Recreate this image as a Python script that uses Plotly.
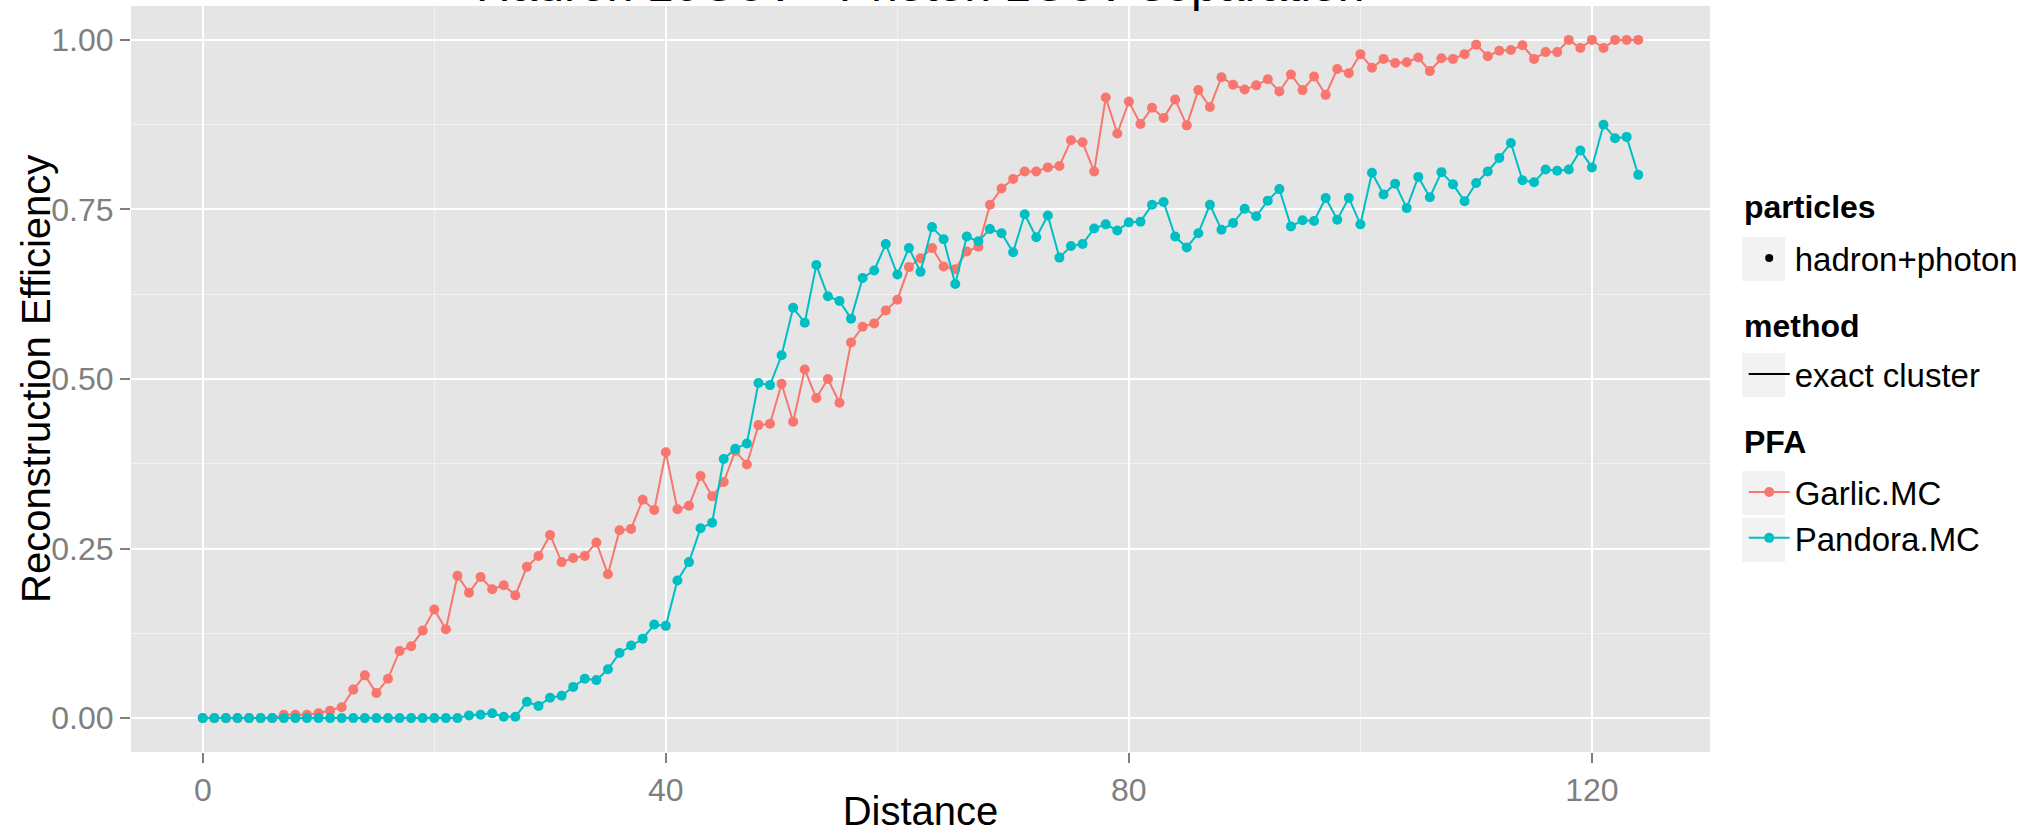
import plotly.graph_objects as go

distance = list(range(0, 125))

garlic_mc = [
    0.000, 0.000, 0.000, 0.000, 0.000, 0.000, 0.000, 0.005, 0.005, 0.005,
    0.007, 0.011, 0.016, 0.042, 0.063, 0.037, 0.058, 0.099, 0.106, 0.129,
    0.160, 0.131, 0.210, 0.185, 0.208, 0.190, 0.196, 0.181, 0.223, 0.239,
    0.270, 0.230, 0.236, 0.239, 0.259, 0.212, 0.277, 0.279, 0.322, 0.307,
    0.392, 0.308, 0.313, 0.357, 0.327, 0.348, 0.394, 0.374, 0.432, 0.434,
    0.493, 0.437, 0.514, 0.472, 0.500, 0.465, 0.554, 0.577, 0.582, 0.601,
    0.617, 0.665, 0.678, 0.693, 0.666, 0.662, 0.688, 0.695, 0.757, 0.781,
    0.795, 0.806, 0.806, 0.812, 0.814, 0.852, 0.849, 0.806, 0.915, 0.862,
    0.909, 0.876, 0.900, 0.885, 0.912, 0.874, 0.926, 0.901, 0.945, 0.934,
    0.927, 0.933, 0.942, 0.924, 0.949, 0.926, 0.946, 0.919, 0.957, 0.951,
    0.979, 0.959, 0.972, 0.966, 0.967, 0.974, 0.954, 0.973, 0.972, 0.979,
    0.993, 0.976, 0.984, 0.985, 0.992, 0.972, 0.982, 0.982, 1.000, 0.988,
    1.000, 0.988, 1.000, 1.000, 1.000,
]

pandora_mc = [
    0.000, 0.000, 0.000, 0.000, 0.000, 0.000, 0.000, 0.000, 0.000, 0.000,
    0.000, 0.000, 0.000, 0.000, 0.000, 0.000, 0.000, 0.000, 0.000, 0.000,
    0.000, 0.000, 0.000, 0.004, 0.005, 0.007, 0.002, 0.002, 0.024, 0.018,
    0.030, 0.033, 0.046, 0.058, 0.056, 0.072, 0.096, 0.107, 0.117, 0.138,
    0.136, 0.203, 0.230, 0.280, 0.288, 0.382, 0.397, 0.405, 0.494, 0.491,
    0.535, 0.605, 0.583, 0.668, 0.622, 0.615, 0.589, 0.649, 0.660, 0.699,
    0.654, 0.693, 0.658, 0.724, 0.706, 0.640, 0.710, 0.703, 0.721, 0.715,
    0.687, 0.743, 0.709, 0.741, 0.679, 0.696, 0.699, 0.722, 0.728, 0.719,
    0.731, 0.732, 0.757, 0.761, 0.710, 0.694, 0.715, 0.757, 0.720, 0.730,
    0.751, 0.740, 0.763, 0.780, 0.725, 0.734, 0.733, 0.767, 0.735, 0.767,
    0.728, 0.804, 0.772, 0.788, 0.752, 0.798, 0.768, 0.805, 0.787, 0.762,
    0.789, 0.806, 0.826, 0.848, 0.793, 0.790, 0.809, 0.807, 0.809, 0.837,
    0.812, 0.875, 0.855, 0.857, 0.801,
]

x_ticks = [0, 40, 80, 120]
y_ticks = [0.0, 0.25, 0.5, 0.75, 1.0]
y_tick_labels = ["0.00", "0.25", "0.50", "0.75", "1.00"]

FONT = "Liberation Sans, Arial, sans-serif"
GARLIC = "#F8766D"
PANDORA = "#00BFC4"
KEY_BG = "#F2F2F2"

# plot area in pixels (page 2031 x 833)
L, R, T, B = 131, 321, 6, 81
W, H = 2031, 833
PW, PH = W - L - R, H - T - B


def px_x(px):
    return (px - L) / PW


def px_y(py):
    return (H - B - py) / PH


fig = go.Figure()

# legend-only entries (ggplot-style guides)
fig.add_trace(go.Scatter(
    x=[None], y=[None], mode="markers", name="hadron+photon",
    marker=dict(color="black", size=8), legend="legend", showlegend=True,
))
fig.add_trace(go.Scatter(
    x=[None], y=[None], mode="lines", name="exact cluster",
    line=dict(color="black", width=2), legend="legend2", showlegend=True,
))
fig.add_trace(go.Scatter(
    x=distance, y=garlic_mc, mode="lines+markers", name="Garlic.MC",
    line=dict(color=GARLIC, width=2), marker=dict(color=GARLIC, size=10),
    legend="legend3", showlegend=True,
))
fig.add_trace(go.Scatter(
    x=distance, y=pandora_mc, mode="lines+markers", name="Pandora.MC",
    line=dict(color=PANDORA, width=2), marker=dict(color=PANDORA, size=10),
    legend="legend3", showlegend=True,
))


def legend_cfg(top_px):
    return dict(
        x=px_x(1743.7), xanchor="left", xref="paper",
        y=px_y(top_px), yanchor="top", yref="paper",
        font=dict(family=FONT, size=33, color="black"),
        itemwidth=41,
        bgcolor="rgba(0,0,0,0)",
        borderwidth=0,
        traceorder="normal",
        visible=True,
    )


# legend group titles (ggplot guide titles) and their first-item tops
guide_titles = ["particles", "method", "PFA"]
guide_title_centers = [207, 326, 442]
guide_item_tops = [230, 346, 464]

# grey legend key backgrounds
key_centers = [259, 375, 493, 540]
shapes = []
for cy in key_centers:
    shapes.append(dict(
        type="rect", xref="paper", yref="paper", layer="below",
        x0=px_x(1741.7), x1=px_x(1785.7),
        y0=px_y(cy + 22.5), y1=px_y(cy - 22.5),
        fillcolor=KEY_BG, line=dict(color="white", width=1),
    ))

annotations = [
    dict(text="Hadron 10GeV - Photon 1GeV separation",
         xref="paper", yref="paper", x=0.5, y=1.0,
         xanchor="center", yanchor="bottom", yshift=-7,
         showarrow=False, font=dict(family=FONT, size=48, color="black")),
    dict(text="Reconstruction Efficiency",
         xref="paper", yref="paper", x=px_x(36), y=0.5,
         xanchor="center", yanchor="middle", textangle=-90,
         showarrow=False, font=dict(family=FONT, size=40, color="black")),
]
for t, cy in zip(guide_titles, guide_title_centers):
    annotations.append(dict(
        text="<b>" + t + "</b>", xref="paper", yref="paper",
        x=px_x(1741.7), y=px_y(cy), xanchor="left", yanchor="middle",
        showarrow=False, font=dict(family=FONT, size=32, color="black"),
    ))

fig.update_layout(
    width=W, height=H,
    showlegend=True,
    margin=dict(l=L, r=R, t=T, b=B, autoexpand=False),
    paper_bgcolor="white",
    plot_bgcolor="#E5E5E5",
    font=dict(family=FONT, size=32, color="black"),
    legend=legend_cfg(guide_item_tops[0]),
    legend2=legend_cfg(guide_item_tops[1]),
    legend3=legend_cfg(guide_item_tops[2]),
    shapes=shapes,
    annotations=annotations,
)

fig.update_xaxes(
    range=[-6.2, 130.2], automargin=False,
    tickvals=x_ticks, ticktext=[str(v) for v in x_ticks],
    showgrid=True, gridcolor="white", gridwidth=2,
    minor=dict(tick0=0, dtick=20, showgrid=True, gridcolor=KEY_BG, gridwidth=1, ticklen=0),
    zeroline=False, showline=False,
    ticks="outside", ticklen=10, tickwidth=2, tickcolor="#7F7F7F",
    tickfont=dict(family=FONT, size=32, color="#7F7F7F"),
    title=dict(text="Distance", font=dict(family=FONT, size=40, color="black"), standoff=6),
)
fig.update_yaxes(
    range=[-0.05, 1.05], automargin=False,
    tickvals=y_ticks, ticktext=y_tick_labels,
    showgrid=True, gridcolor="white", gridwidth=2,
    minor=dict(tick0=0, dtick=0.125, showgrid=True, gridcolor=KEY_BG, gridwidth=1, ticklen=0),
    zeroline=False, showline=False,
    ticks="outside", ticklen=10, tickwidth=2, tickcolor="#7F7F7F",
    tickfont=dict(family=FONT, size=32, color="#7F7F7F"),
)

fig.write_html("out.html")
